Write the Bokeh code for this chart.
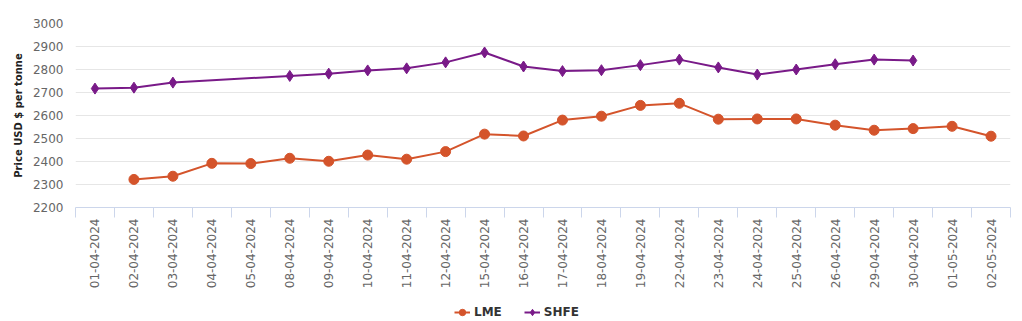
from bokeh.plotting import figure
from bokeh.models import Range1d, FixedTicker, Legend, LegendItem
from bokeh.layouts import column
from bokeh.embed import file_html
from bokeh.resources import INLINE
import math

dates = ["01-04-2024", "02-04-2024", "03-04-2024", "04-04-2024", "05-04-2024",
         "08-04-2024", "09-04-2024", "10-04-2024", "11-04-2024", "12-04-2024",
         "15-04-2024", "16-04-2024", "17-04-2024", "18-04-2024", "19-04-2024",
         "22-04-2024", "23-04-2024", "24-04-2024", "25-04-2024", "26-04-2024",
         "29-04-2024", "30-04-2024", "01-05-2024", "02-05-2024"]
lme = [None, 2322, 2336, 2392, 2391, 2414, 2401, 2428, 2410, 2443,
       2519, 2511, 2580, 2597, 2644, 2653, 2584, 2585, 2585, 2558,
       2536, 2543, 2553, 2510]
shfe = [2717, 2721, 2743, None, None, 2772, 2782, 2796, 2805, 2831,
        2874, 2813, 2793, 2797, 2819, 2843, 2809, 2778, 2800, 2823,
        2843, 2839, None, None]
y_ticks = [2200, 2300, 2400, 2500, 2600, 2700, 2800, 2900, 3000]
series_names = ["LME", "SHFE"]

LME_COLOR = "#d4542b"
SHFE_COLOR = "#791a88"

n = len(dates)
idx = list(range(n))

p = figure(width=1022, height=298, output_backend="svg", toolbar_location=None,
           x_range=Range1d(-0.5, n - 0.5), y_range=Range1d(y_ticks[0], y_ticks[-1]),
           min_border_left=75, min_border_right=12, min_border_top=23, min_border_bottom=91)
p.outline_line_color = None
p.background_fill_color = "white"
p.border_fill_color = "white"

# x axis
xa = p.xaxis[0]
xa.ticker = FixedTicker(ticks=idx, minor_ticks=[i - 0.5 for i in range(n + 1)])
xa.major_label_overrides = {i: d for i, d in enumerate(dates)}
xa.major_label_orientation = math.pi / 2
xa.major_tick_line_color = None
xa.major_tick_out = 0
xa.major_tick_in = 0
xa.minor_tick_out = 10
xa.minor_tick_in = 0
xa.minor_tick_line_color = "#ccd6eb"
xa.axis_line_color = "#ccd6eb"
xa.major_label_standoff = 1
xa.major_label_text_font = "DejaVu Sans"
xa.major_label_text_font_size = "12px"
xa.major_label_text_color = "#666666"

# y axis
ya = p.yaxis[0]
ya.ticker = FixedTicker(ticks=y_ticks)
ya.axis_line_color = None
ya.major_tick_line_color = None
ya.major_tick_out = 0
ya.major_tick_in = 0
ya.minor_tick_line_color = None
ya.minor_tick_out = 0
ya.minor_tick_in = 0
ya.major_label_standoff = 12
ya.major_label_text_font = "DejaVu Sans"
ya.major_label_text_font_size = "12px"
ya.major_label_text_color = "#666666"
ya.axis_label = "Price USD $ per tonne"
ya.axis_label_text_font = "DejaVu Sans"
ya.axis_label_text_font_style = "bold"
ya.axis_label_text_font_size = "10px"
ya.axis_label_text_color = "#222222"
ya.axis_label_standoff = 6

p.xgrid.grid_line_color = None
p.ygrid.grid_line_color = "#e6e6e6"
p.ygrid.ticker = FixedTicker(ticks=y_ticks)

lx = [i for i, v in zip(idx, lme) if v is not None]
ly = [v for v in lme if v is not None]
sx = [i for i, v in zip(idx, shfe) if v is not None]
sy = [v for v in shfe if v is not None]

p.line(lx, ly, line_color=LME_COLOR, line_width=2)
p.scatter(lx, ly, marker="circle", size=10, fill_color=LME_COLOR, line_color=LME_COLOR)
p.line(sx, sy, line_color=SHFE_COLOR, line_width=2)
p.scatter(sx, sy, marker="diamond", size=11, fill_color=SHFE_COLOR, line_color=SHFE_COLOR)

# legend strip below the chart (its glyphs fall outside this strip's range, only the legend shows)
pl = figure(width=1022, height=23, output_backend="svg", toolbar_location=None,
            x_axis_type=None, y_axis_type=None, x_range=Range1d(0, 1), y_range=Range1d(0, 1),
            min_border=0)
pl.outline_line_color = None
pl.xgrid.grid_line_color = None
pl.ygrid.grid_line_color = None
g1 = pl.line(lx, ly, line_color=LME_COLOR, line_width=2)
s1 = pl.scatter(lx, ly, marker="circle", size=10, fill_color=LME_COLOR, line_color=LME_COLOR)
g2 = pl.line(sx, sy, line_color=SHFE_COLOR, line_width=2)
s2 = pl.scatter(sx, sy, marker="diamond", size=11, fill_color=SHFE_COLOR, line_color=SHFE_COLOR)

legend = Legend(items=[LegendItem(label=series_names[0], renderers=[g1, s1]),
                       LegendItem(label=series_names[1], renderers=[g2, s2])],
                orientation="horizontal", location=(379, 1),
                label_text_font="DejaVu Sans", label_text_font_size="12px",
                label_text_font_style="bold", label_text_color="#333333",
                border_line_color=None, background_fill_alpha=0,
                glyph_width=16, glyph_height=16, label_standoff=4,
                spacing=22, margin=0, padding=2)
pl.add_layout(legend, "center")

layout = column(p, pl, spacing=0)
open("out.html", "w").write(file_html(layout, INLINE))
